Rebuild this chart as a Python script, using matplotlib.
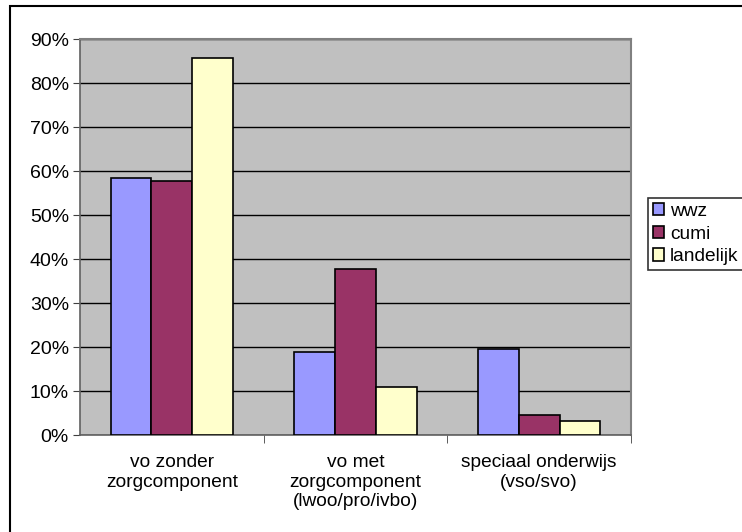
import numpy as np
import matplotlib
matplotlib.use('Agg')
from matplotlib import pyplot as plt
from matplotlib.patches import Rectangle
from matplotlib.ticker import FuncFormatter

plt.rcParams['font.family'] = ['Liberation Sans', 'DejaVu Sans']

categories = ['vo zonder\nzorgcomponent',
              'vo met\nzorgcomponent\n(lwoo/pro/ivbo)',
              'speciaal onderwijs\n(vso/svo)']
series_names = ['wwz', 'cumi', 'landelijk']
wwz = [58.4, 18.9, 19.5]
cumi = [57.7, 37.7, 4.5]
landelijk = [85.7, 10.9, 3.2]
colors = ['#9999ff', '#993366', '#ffffcc']

W, H = 742, 532
fig = plt.figure(figsize=(W / 100, H / 100), dpi=100)
# rand om de hele figuur (loopt rechts en onder door)
fig.patches.append(Rectangle((10 / W, -0.1), 1.2, 1 - 6 / H + 0.1,
                             transform=fig.transFigure, fill=False,
                             edgecolor='black', lw=1.5))

ax = fig.add_axes([80 / W, 1 - 435 / H, (631 - 80) / W, (435 - 39) / H])
ax.set_facecolor('#c0c0c0')

x = np.arange(len(categories))
bw = 0.222
for k, (vals, c) in enumerate(zip([wwz, cumi, landelijk], colors)):
    ax.bar(x + (k - 1) * bw, vals, bw, color=c, edgecolor='black',
           linewidth=1.2, label=series_names[k], zorder=3)

ax.set_xlim(-0.5, 2.5)
ax.set_ylim(0, 90)
ax.set_yticks(np.arange(0, 91, 10))
ax.yaxis.set_major_formatter(FuncFormatter(lambda v, p: f'{v:.0f}%'))
ax.yaxis.grid(True, color='black', lw=1, zorder=1)
ax.set_axisbelow(True)

ax.set_xticks(x)
ax.set_xticklabels(categories, fontsize=13.8, linespacing=1.18, va='top')
ax.tick_params(axis='x', length=0, pad=14)
ax.set_xticks([0.5, 1.5, 2.5], minor=True)
ax.tick_params(axis='x', which='minor', length=6, direction='out', color='#404040')
ax.tick_params(axis='y', labelsize=14, length=5, direction='out', color='#404040', pad=3)

for s in ['top', 'right']:
    ax.spines[s].set_color('#808080')
    ax.spines[s].set_linewidth(1.5)
for s in ['left', 'bottom']:
    ax.spines[s].set_color('#606060')
    ax.spines[s].set_linewidth(1.2)

leg = ax.legend(loc='upper left', bbox_to_anchor=(648 / W, 1 - 198 / H),
                bbox_transform=fig.transFigure, fontsize=13.8, frameon=True,
                fancybox=False, edgecolor='black', handlelength=0.6,
                handleheight=0.6, handletextpad=0.3, borderpad=0.25,
                labelspacing=0.3, borderaxespad=0)
leg.get_frame().set_linewidth(1.2)

plt.savefig('out.png', dpi=100)
